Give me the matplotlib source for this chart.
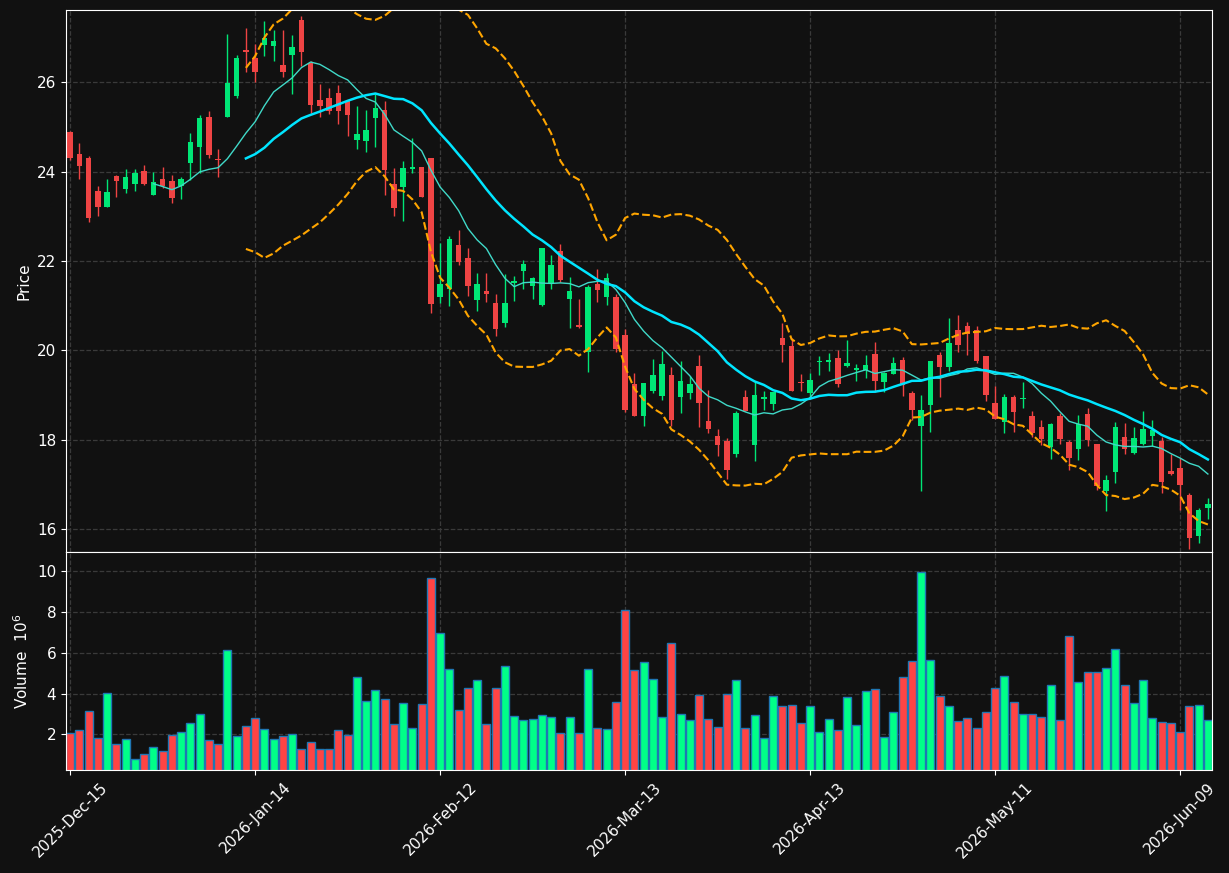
import numpy as np
import pandas as pd
import matplotlib
matplotlib.use("Agg")
import matplotlib.pyplot as plt

# daily OHLC (price) and volume (millions)
opens = [24.88, 24.39, 24.31, 23.56, 23.21, 23.9, 23.62, 23.73, 24.01, 23.48,
         23.84, 23.79, 23.68, 24.2, 24.55, 25.22, 24.27, 25.23, 25.69, 26.72,
         26.54, 26.84, 26.81, 26.38, 26.62, 27.39, 26.44, 25.6, 25.66, 25.76,
         25.58, 24.71, 24.68, 25.2, 25.38, 23.72, 23.65, 24.06, 24.1, 24.31,
         21.2, 21.38, 22.35, 22.06, 21.13, 21.32, 21.05, 20.61, 21.5, 21.77,
         21.44, 21.01, 21.49, 22.22, 21.14, 20.57, 19.97, 21.48, 21.2, 21.19,
         20.34, 19.24, 18.54, 19.08, 18.97, 19.45, 18.95, 19.04, 19.65, 18.42,
         18.09, 17.97, 17.69, 18.96, 17.89, 18.92, 18.79, 20.28, 20.1, 19.29,
         19.04, 19.73, 19.73, 19.83, 19.66, 19.57, 19.57, 19.92, 19.3, 19.48,
         19.79, 19.04, 18.3, 18.78, 19.9, 19.63, 20.46, 20.55, 20.46, 19.88,
         18.83, 18.39, 18.96, 18.9, 18.54, 18.28, 17.84, 18.53, 17.94, 17.79,
         18.57, 17.91, 16.85, 17.28, 18.06, 17.7, 17.91, 18.09, 17.97, 17.29,
         17.37, 16.75, 15.85, 16.48]
highs = [24.9, 24.64, 24.35, 23.68, 23.84, 23.92, 24.05, 24.05, 24.14, 24.0,
         24.1, 23.92, 23.89, 24.86, 25.27, 25.35, 24.5, 27.09, 26.62, 27.21,
         26.86, 27.38, 27.18, 27.16, 27.05, 27.48, 26.48, 25.96, 25.87, 25.93,
         25.6, 25.48, 25.39, 25.74, 25.58, 24.09, 24.23, 24.75, 24.1, 24.31,
         22.4, 22.55, 22.7, 22.3, 21.74, 21.72, 21.25, 21.7, 21.66, 22.02,
         21.64, 22.3, 22.14, 22.37, 21.64, 21.14, 21.46, 21.83, 21.72, 21.26,
         20.47, 19.5, 19.27, 19.8, 19.98, 19.63, 19.77, 19.43, 19.89, 19.11,
         18.24, 18.03, 18.64, 19.12, 19.28, 19.09, 19.07, 20.62, 20.28, 19.47,
         19.49, 19.88, 19.94, 20.0, 20.24, 19.69, 19.89, 20.19, 19.52, 19.86,
         19.85, 19.1, 19.0, 19.77, 19.97, 20.72, 20.8, 20.63, 20.54, 19.88,
         19.2, 19.02, 19.0, 19.28, 18.65, 18.45, 18.38, 18.59, 17.99, 18.56,
         18.71, 17.91, 17.2, 18.39, 18.38, 18.29, 18.65, 18.43, 18.06, 17.67,
         17.58, 16.81, 16.48, 16.69]
lows = [24.25, 23.83, 22.88, 23.01, 23.2, 23.43, 23.52, 23.56, 23.7, 23.48,
        23.63, 23.29, 23.38, 23.82, 23.98, 24.3, 23.89, 25.22, 25.66, 26.22,
        26.0, 26.58, 26.48, 26.11, 25.74, 26.36, 25.32, 25.23, 25.3, 25.06,
        24.8, 24.51, 24.44, 24.56, 23.48, 23.01, 22.9, 23.96, 23.43, 20.83,
        21.05, 21.0, 21.92, 21.22, 20.88, 21.08, 20.33, 20.53, 21.1, 21.38,
        21.14, 21.0, 21.38, 21.52, 20.5, 20.5, 19.52, 21.08, 21.02, 19.97,
        18.61, 18.53, 18.3, 19.04, 18.88, 18.3, 18.6, 18.91, 18.28, 18.15,
        17.63, 17.12, 17.61, 18.64, 17.52, 18.67, 18.67, 19.73, 19.09, 19.1,
        18.93, 19.45, 19.53, 19.18, 19.63, 19.31, 19.37, 19.06, 19.06, 19.47,
        18.97, 18.43, 16.85, 18.18, 18.95, 19.53, 19.97, 19.89, 19.72, 18.86,
        18.47, 18.16, 18.18, 18.71, 18.05, 17.89, 17.57, 17.91, 17.33, 17.55,
        17.86, 16.88, 16.41, 17.04, 17.69, 17.69, 17.89, 17.86, 16.81, 17.2,
        16.43, 15.56, 15.69, 16.22]
closes = [24.31, 24.13, 22.97, 23.21, 23.54, 23.8, 23.88, 23.97, 23.73, 23.76,
          23.68, 23.42, 23.84, 24.66, 25.2, 24.38, 24.25, 25.98, 26.54, 26.68,
          26.23, 27.0, 26.92, 26.23, 26.78, 26.68, 25.5, 25.46, 25.35, 25.35,
          25.27, 24.84, 24.93, 25.42, 24.04, 23.19, 24.08, 24.1, 23.43, 21.04,
          21.48, 22.5, 21.98, 21.44, 21.48, 21.26, 20.47, 21.05, 21.55, 21.93,
          21.61, 22.28, 21.9, 21.57, 21.32, 20.53, 21.41, 21.35, 21.61, 20.03,
          18.67, 18.54, 19.27, 19.45, 19.7, 18.45, 19.32, 19.25, 18.81, 18.24,
          17.89, 17.31, 18.6, 18.64, 19.0, 18.96, 19.07, 20.13, 19.1, 19.27,
          19.34, 19.77, 19.78, 19.25, 19.72, 19.6, 19.67, 19.32, 19.5, 19.71,
          19.23, 18.67, 18.66, 19.77, 19.62, 20.17, 20.13, 20.37, 19.75, 18.99,
          18.47, 18.96, 18.62, 18.93, 18.15, 18.02, 18.36, 18.02, 17.59, 18.36,
          18.0, 16.96, 17.09, 18.28, 17.8, 18.03, 18.23, 18.21, 17.05, 17.23,
          16.99, 15.8, 16.42, 16.55]
volumes = [2.07, 2.21, 3.15, 1.82, 4.04, 1.52, 1.77, 0.78, 1.03, 1.38,
           1.18, 1.97, 2.11, 2.56, 3.0, 1.72, 1.52, 6.15, 1.92, 2.41,
           2.8, 2.26, 1.77, 1.92, 2.02, 1.28, 1.62, 1.28, 1.28, 2.21,
           1.97, 4.82, 3.64, 4.18, 3.74, 2.51, 3.54, 2.31, 3.49, 9.68,
           6.98, 5.2, 3.18, 4.27, 4.66, 2.51, 4.27, 5.35, 2.89, 2.69,
           2.74, 2.94, 2.84, 2.05, 2.84, 2.05, 5.2, 2.34, 2.25, 3.58,
           8.11, 5.15, 5.55, 4.71, 2.84, 6.48, 2.99, 2.69, 3.92, 2.74,
           2.39, 3.97, 4.66, 2.3, 2.94, 1.85, 3.87, 3.38, 3.43, 2.54,
           3.38, 2.1, 2.74, 2.2, 3.82, 2.44, 4.12, 4.22, 1.9, 3.08,
           4.82, 5.6, 9.95, 5.65, 3.87, 3.38, 2.64, 2.79, 2.3, 3.08,
           4.27, 4.86, 3.58, 2.99, 2.99, 2.84, 4.41, 2.69, 6.83, 4.56,
           5.05, 5.05, 5.25, 6.19, 4.41, 3.53, 4.66, 2.79, 2.59, 2.54,
           2.1, 3.38, 3.43, 2.69]
tick_labels = ["2025-Dec-15", "2026-Jan-14", "2026-Feb-12", "2026-Mar-13",
               "2026-Apr-13", "2026-May-11", "2026-Jun-09"]

df = pd.DataFrame({"open": opens, "high": highs, "low": lows,
                   "close": closes, "volume": volumes})
x = np.arange(len(df))
up = df["close"] >= df["open"]

# indicators
ma10 = df["close"].rolling(10).mean()
ma20 = df["close"].rolling(20).mean()
sd20 = df["close"].rolling(20).std(ddof=0)
bb_up = ma20 + 2 * sd20
bb_dn = ma20 - 2 * sd20

bg = "#111111"
c_up, c_dn = "#00e676", "#ef4444"
v_up, v_dn = "#00ff88", "#ff4444"

fig = plt.figure(figsize=(12.29, 8.73), dpi=100, facecolor=bg)
ax = fig.add_axes([0.0537, 0.3677, 0.9325, 0.6209])
axv = fig.add_axes([0.0537, 0.118, 0.9325, 0.2497], sharex=ax)

for a in (ax, axv):
    a.set_facecolor(bg)
    for s in a.spines.values():
        s.set_color("white")
    a.tick_params(colors="white", labelsize=11)
    a.grid(True, color="#3a3a3a", linestyle="--", linewidth=0.9)
    a.set_axisbelow(True)

# candles
col = np.where(up, c_up, c_dn)
ax.vlines(x, df["low"], df["high"], color=col, linewidth=1.0)
body_lo = np.minimum(df["open"], df["close"])
body_h = np.maximum((df["close"] - df["open"]).abs(), 0.025)
ax.bar(x, body_h, bottom=body_lo, width=0.6, color=col, linewidth=0)

ax.plot(x, ma10, color="#40d9c8", linewidth=1.0)
ax.plot(x, ma20, color="#00e5ff", linewidth=1.8)
ax.plot(x, bb_up, color="orange", linestyle="--", linewidth=1.5)
ax.plot(x, bb_dn, color="orange", linestyle="--", linewidth=1.5)

ax.set_ylim(15.485, 27.62)
ax.set_yticks([16, 18, 20, 22, 24, 26])
ax.set_ylabel("Price", color="white", fontsize=11)
plt.setp(ax.get_xticklabels(), visible=False)

# volume
vcol = np.where(up, v_up, v_dn)
axv.bar(x, df["volume"], width=0.88, color=vcol, edgecolor="#1f77b4", linewidth=1.0)
axv.set_ylim(0.26, 10.94)
axv.set_yticks([2, 4, 6, 8, 10])
axv.set_ylabel("Volume  $10^{6}$", color="white", fontsize=11)

axv.set_xlim(-0.45, len(df) - 0.55)
axv.set_xticks(range(0, len(df), 20))
axv.set_xticklabels(tick_labels, rotation=45)

fig.savefig("out.png", facecolor=bg)
